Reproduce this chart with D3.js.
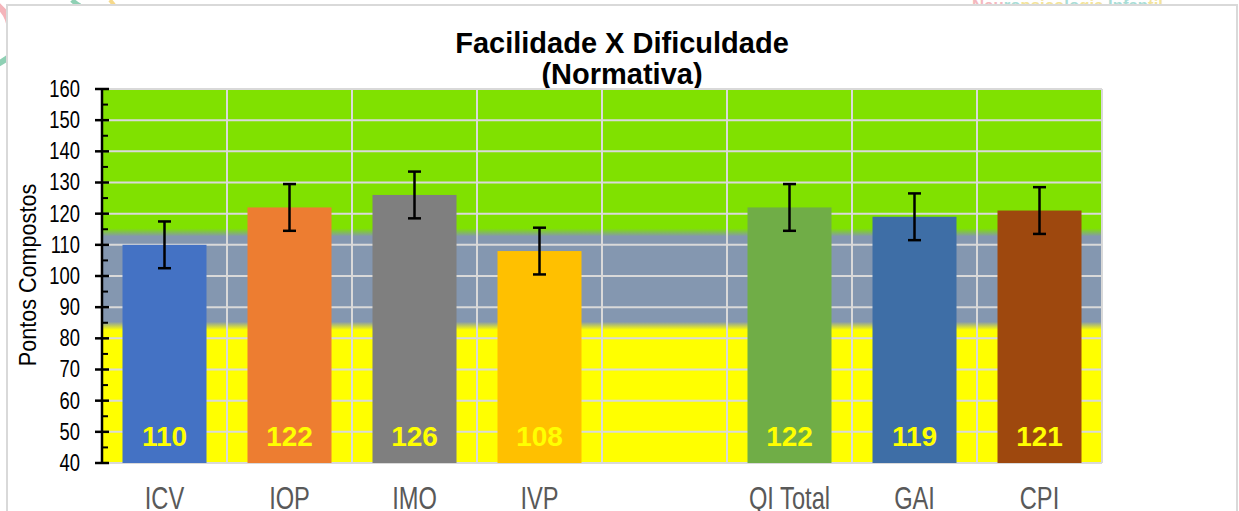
<!DOCTYPE html>
<html><head><meta charset="utf-8">
<script src="https://cdn.jsdelivr.net/npm/d3@7"></script>
<style>
html,body{margin:0;padding:0;background:#fff;overflow:hidden;}
svg{display:block;font-family:"Liberation Sans",Arial,sans-serif;}
</style></head>
<body>
<svg id="chart" width="1239" height="511"></svg>
<script>
// ---- data ----
const categories = ["ICV","IOP","IMO","IVP","","QI Total","GAI","CPI"];
const values     = [110, 122, 126, 108, null, 122, 119, 121];
const errors     = [7.5, 7.5, 7.5, 7.5, null, 7.5, 7.5, 7.5];
const barColors  = ["#4472C4","#ED7D31","#7F7F7F","#FFC000",null,"#70AD47","#3E6EA6","#9E480E"];
const yTicks     = [40,50,60,70,80,90,100,110,120,130,140,150,160];
const minorTicks = [45,55,65,75,85,95,105,115,125,135,145,155];
const bandLimits = [40, 84, 114, 160];          // yellow | gray | green
const bandColors = ["#FFFF00","#8497B0","#80E100"];
const titleLines = ["Facilidade X Dificuldade","(Normativa)"];
const yTitle = "Pontos Compostos";

const svg = d3.select("#chart");
const X0 = 102, X1 = 1102, Y0 = 463, Y1 = 89;

const x = d3.scaleBand().domain(d3.range(categories.length)).range([X0, X1])
  .paddingInner(0.328).paddingOuter(0.164);
const y = d3.scaleLinear().domain([40,160]).range([Y0, Y1]);

// ---- watermark decorations (outside the chart frame) ----
const wm = svg.append("g");
wm.append("path").attr("d","M-4,4 A34,34 0 0 1 10,30").attr("fill","none").attr("stroke","#F4B4BA").attr("stroke-width",6);
wm.append("path").attr("d","M-2,64 Q6,60 12,54").attr("fill","none").attr("stroke","#8FD0B4").attr("stroke-width",6);
wm.append("path").attr("d","M72,0 Q76,4 80,6").attr("fill","none").attr("stroke","#8FD0B4").attr("stroke-width",5);
wm.append("path").attr("d","M110,0 L114,5").attr("fill","none").attr("stroke","#F6D98A").attr("stroke-width",4);
const wmText = wm.append("text").attr("x",972).attr("y",11).attr("font-size",17).attr("font-weight","bold")
  .attr("textLength",191).attr("lengthAdjust","spacingAndGlyphs");
[["Neu","#F4B8BE"],["ro","#A9DDD6"],["psico","#F3E39A"],["lo","#A9DDD6"],["gia","#F3E39A"],[" ","#fff"],["Infan","#A9DDD6"],["til","#F3E39A"]]
  .forEach(([t,c]) => wmText.append("tspan").attr("fill",c).text(t));

// ---- chart frame ----
svg.append("rect").attr("x",7).attr("y",5).attr("width",1230).attr("height",520)
  .attr("fill","#fff").attr("stroke","#D9D9D9").attr("stroke-width",2);

// ---- title ----
svg.append("text").attr("x",622).attr("y",53).attr("text-anchor","middle")
  .attr("font-size",29).attr("font-weight","bold").attr("fill","#000").text(titleLines[0]);
svg.append("text").attr("x",622).attr("y",84).attr("text-anchor","middle")
  .attr("font-size",29).attr("font-weight","bold").attr("fill","#000").text(titleLines[1]);

// ---- background bands with soft edges ----
const defs = svg.append("defs");
const grad = defs.append("linearGradient").attr("id","bandGrad").attr("gradientUnits","userSpaceOnUse")
  .attr("x1",0).attr("x2",0).attr("y1",Y0).attr("y2",Y1);
const off = v => (y(v) - Y0) / (Y1 - Y0);
const soft = 1.3;
grad.append("stop").attr("offset",0).attr("stop-color",bandColors[0]);
grad.append("stop").attr("offset",off(bandLimits[1]-soft)).attr("stop-color",bandColors[0]);
grad.append("stop").attr("offset",off(bandLimits[1]+soft)).attr("stop-color",bandColors[1]);
grad.append("stop").attr("offset",off(bandLimits[2]-soft)).attr("stop-color",bandColors[1]);
grad.append("stop").attr("offset",off(bandLimits[2]+soft)).attr("stop-color",bandColors[2]);
grad.append("stop").attr("offset",1).attr("stop-color",bandColors[2]);
svg.append("rect").attr("x",X0).attr("y",Y1).attr("width",X1-X0).attr("height",Y0-Y1).attr("fill","url(#bandGrad)");

// ---- gridlines ----
const grid = svg.append("g").attr("stroke","#D9D9D9").attr("stroke-width",2);
grid.selectAll("line.h").data(yTicks).join("line").attr("class","h")
  .attr("x1",X0).attr("x2",X1).attr("y1",d=>y(d)).attr("y2",d=>y(d));
const step = x.step();
grid.selectAll("line.v").data(d3.range(1, categories.length+1)).join("line").attr("class","v")
  .attr("x1",d=>X0+d*step).attr("x2",d=>X0+d*step).attr("y1",Y1).attr("y2",Y0);

// ---- bars ----
const idx = d3.range(categories.length).filter(i => values[i] != null);
svg.append("g").selectAll("rect").data(idx).join("rect")
  .attr("x",i=>x(i)).attr("width",x.bandwidth())
  .attr("y",i=>y(values[i])).attr("height",i=>y(40)-y(values[i]))
  .attr("fill",i=>barColors[i]);

// ---- error bars ----
const eb = svg.append("g").attr("stroke","#000").attr("stroke-width",2.5);
idx.forEach(i => {
  const cx = x(i) + x.bandwidth()/2;
  const hi = y(values[i]+errors[i]), lo = y(values[i]-errors[i]);
  eb.append("line").attr("x1",cx).attr("x2",cx).attr("y1",hi).attr("y2",lo);
  eb.append("line").attr("x1",cx-6.5).attr("x2",cx+6.5).attr("y1",hi).attr("y2",hi);
  eb.append("line").attr("x1",cx-6.5).attr("x2",cx+6.5).attr("y1",lo).attr("y2",lo);
});

// ---- value labels ----
svg.append("g").selectAll("text").data(idx).join("text")
  .attr("x",i=>x(i)+x.bandwidth()/2).attr("y",y(40)-17)
  .attr("text-anchor","middle").attr("font-size",28).attr("font-weight","bold")
  .attr("fill","#FFFF00").text(i=>values[i]);

// ---- y axis ----
const sx = 0.8;
const yAxis = svg.append("g").attr("transform",`translate(${X0},0)`)
  .call(d3.axisLeft(y).tickValues(yTicks).tickSize(0).tickPadding(22));
yAxis.select(".domain").remove();
yAxis.selectAll(".tick text").attr("font-size",23).attr("fill","#000")
  .attr("font-family","'Liberation Sans',Arial,sans-serif")
  .attr("x",-22/sx).attr("transform",`scale(${sx},1)`);
const ax = svg.append("g").attr("stroke","#000");
ax.append("line").attr("x1",X0).attr("x2",X0).attr("y1",Y1).attr("y2",Y0).attr("stroke-width",2.5);
ax.selectAll("line.maj").data(yTicks).join("line").attr("class","maj")
  .attr("x1",X0-7).attr("x2",X0+7).attr("y1",d=>y(d)).attr("y2",d=>y(d)).attr("stroke-width",2.5);
ax.selectAll("line.min").data(minorTicks).join("line").attr("class","min")
  .attr("x1",X0).attr("x2",X0+6).attr("y1",d=>y(d)).attr("y2",d=>y(d)).attr("stroke-width",2);

// ---- x axis labels ----
const xs = 0.74;
const xAxis = svg.append("g").attr("transform",`translate(0,${Y0})`)
  .call(d3.axisBottom(x).tickFormat(i=>categories[i]).tickSize(0).tickPadding(0));
xAxis.select(".domain").remove();
xAxis.selectAll(".tick text").attr("font-size",32).attr("fill","#595959")
  .attr("font-family","'Liberation Sans',Arial,sans-serif")
  .attr("y",46).attr("dy",0)
  .attr("transform",`scale(${xs},1)`);
xAxis.selectAll(".tick").each(function(i){
  const cx = x(i) + x.bandwidth()/2;
  d3.select(this).attr("transform",`translate(${cx},0)`);
});

// ---- y title ----
svg.append("text").attr("transform","translate(36,275) rotate(-90) scale(0.9,1)")
  .attr("text-anchor","middle").attr("font-size",24).attr("fill","#000").text(yTitle);
</script>
</body></html>
